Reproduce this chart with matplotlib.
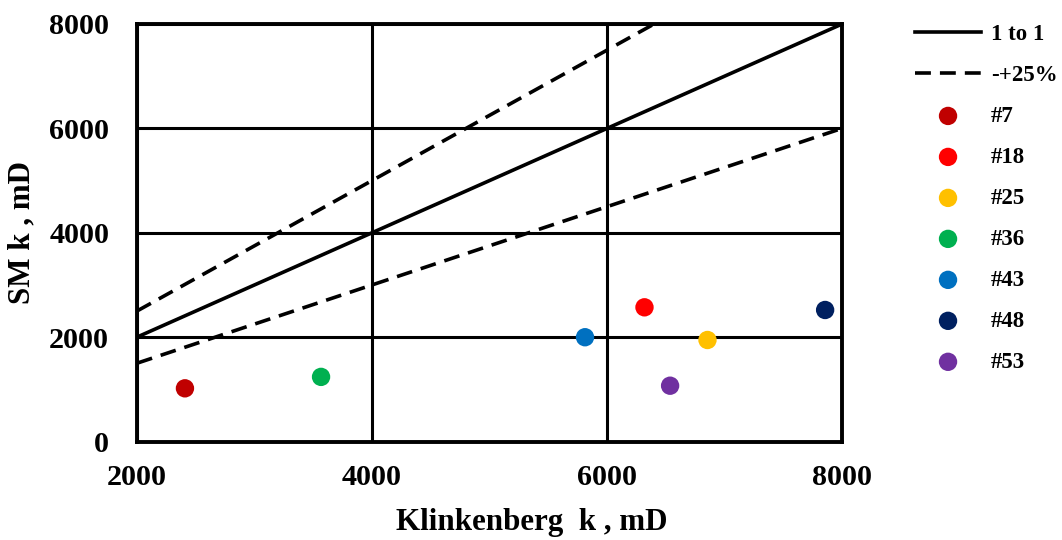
import matplotlib
matplotlib.use("Agg")
import matplotlib.pyplot as plt

# reference lines (Klinkenberg k vs SM k)
line_x = [2000, 8000]
one_to_one = [2000, 8000]
plus_25 = [2500, 10000]
minus_25 = [1500, 6000]

# sample points
samples = ["#7", "#18", "#25", "#36", "#43", "#48", "#53"]
klink_k = [2408, 6318, 6854, 3566, 5812, 7855, 6536]
sm_k = [1019, 2571, 1945, 1238, 1998, 2520, 1069]
colors = ["#C00000", "#FF0000", "#FFC000", "#00B050", "#0070C0", "#002060", "#7030A0"]

x_ticks = [2000, 4000, 6000, 8000]
y_ticks = [0, 2000, 4000, 6000, 8000]

plt.rcParams['font.family'] = ['Liberation Serif', 'DejaVu Serif']
plt.rcParams['font.weight'] = 'bold'

fig = plt.figure(figsize=(10.62, 5.4), dpi=100)
ax = fig.add_axes([0.129, 0.1824, 0.664, 0.7732])

ax.plot(line_x, one_to_one, color='black', lw=2.6, label='1 to 1', zorder=3)
ax.plot(line_x, plus_25, color='black', lw=2.6, dashes=(4.4, 2.5), label='-+25%', zorder=3)
ax.plot(line_x, minus_25, color='black', lw=2.6, dashes=(4.4, 2.5), zorder=3)

for name, xv, yv, c in zip(samples, klink_k, sm_k, colors):
    ax.scatter([xv], [yv], s=175, color=c, edgecolors='none', label=name, zorder=4)

ax.set_xlim(2000, 8000)
ax.set_ylim(0, 8000)
ax.set_xticks(x_ticks)
ax.set_yticks(y_ticks)
ax.grid(True, color='black', lw=2.2)
ax.set_axisbelow(True)
for sp in ax.spines.values():
    sp.set_linewidth(2.8)

ax.tick_params(length=0, labelsize=21.7, pad=16)
ax.tick_params(axis='y', pad=20)
for lab in ax.get_xticklabels() + ax.get_yticklabels():
    lab.set_fontweight('bold')

ax.set_xlabel('Klinkenberg  k , mD', fontsize=22.3, fontweight='bold', va='center')
ax.set_ylabel('SM k , mD', fontsize=22.3, fontweight='bold', va='center')
ax.xaxis.set_label_coords(0.56, -0.193)
ax.yaxis.set_label_coords(-0.163, 0.5)

leg = ax.legend(loc='upper left', bbox_to_anchor=(1.09, 1.022), frameon=False,
                fontsize=16.5, handlelength=2.9, handletextpad=0.42, labelspacing=0.87,
                borderaxespad=0)
for t in leg.get_texts():
    t.set_fontweight('bold')

fig.savefig('out.png', dpi=100)
